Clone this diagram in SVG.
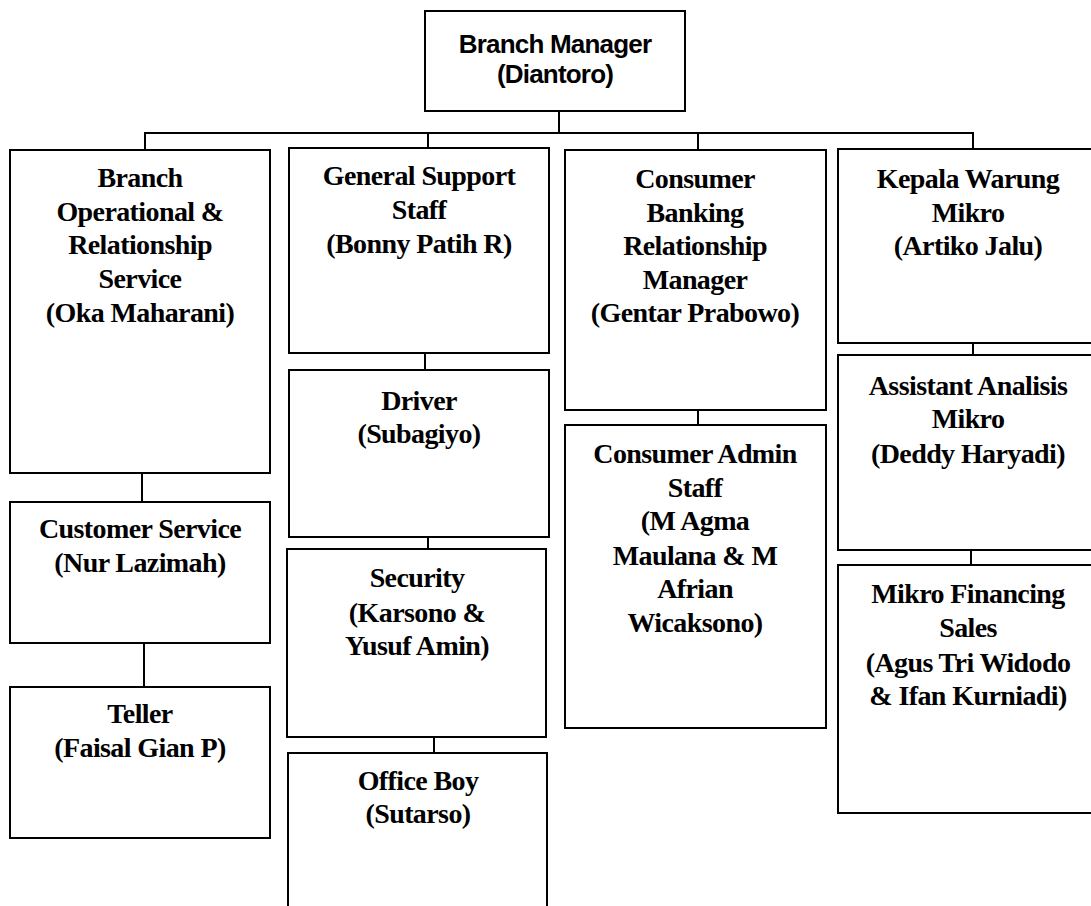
<svg xmlns="http://www.w3.org/2000/svg" width="1091" height="906" viewBox="0 0 1091 906">
<style>
.box{fill:#ffffff;stroke:#000000;stroke-width:2}
.t{font-family:"Liberation Serif","Times New Roman",serif;font-weight:bold;font-size:28px;letter-spacing:-0.6px;fill:#000;text-anchor:middle}
.ts{font-family:"Liberation Sans",Arial,sans-serif;font-weight:bold;font-size:26px;letter-spacing:-0.8px;fill:#000;text-anchor:middle}
.c{stroke:#000;stroke-width:2;fill:none}
</style>
<rect x="0" y="0" width="1091" height="906" fill="#ffffff"/>
<g id="connectors">
<line class="c" x1="559" y1="111" x2="559" y2="133"/>
<line class="c" x1="144" y1="133" x2="974" y2="133"/>
<line class="c" x1="145" y1="133" x2="145" y2="150"/>
<line class="c" x1="428" y1="133" x2="428" y2="148"/>
<line class="c" x1="698" y1="133" x2="698" y2="150"/>
<line class="c" x1="973" y1="133" x2="973" y2="149"/>
<line class="c" x1="142" y1="473" x2="142" y2="502"/>
<line class="c" x1="144" y1="643" x2="144" y2="687"/>
<line class="c" x1="425" y1="353" x2="425" y2="370"/>
<line class="c" x1="428" y1="537" x2="428" y2="549"/>
<line class="c" x1="434" y1="737" x2="434" y2="753"/>
<line class="c" x1="698" y1="410" x2="698" y2="425"/>
<line class="c" x1="973" y1="343" x2="973" y2="355"/>
<line class="c" x1="971" y1="550" x2="971" y2="565"/>
</g>
<g id="branch-manager">
<rect class="box" x="425" y="11" width="260" height="100"/>
<text class="ts" x="555" y="53">Branch Manager</text>
<text class="ts" x="555" y="83">(Diantoro)</text>
</g>
<g id="branch-operational">
<rect class="box" x="10" y="150" width="260" height="323"/>
<text class="t" x="140" y="187">Branch</text>
<text class="t" x="140" y="220.5">Operational &amp;</text>
<text class="t" x="140" y="254">Relationship</text>
<text class="t" x="140" y="288">Service</text>
<text class="t" x="140" y="321.5">(Oka Maharani)</text>
</g>
<g id="customer-service">
<rect class="box" x="10" y="502" width="260" height="141"/>
<text class="t" x="140" y="538">Customer Service</text>
<text class="t" x="140" y="572">(Nur Lazimah)</text>
</g>
<g id="teller">
<rect class="box" x="10" y="687" width="260" height="151"/>
<text class="t" x="140" y="723">Teller</text>
<text class="t" x="140" y="757">(Faisal Gian P)</text>
</g>
<g id="general-support">
<rect class="box" x="289" y="148" width="260" height="205"/>
<text class="t" x="419" y="185">General Support</text>
<text class="t" x="419" y="219">Staff</text>
<text class="t" x="419" y="253">(Bonny Patih R)</text>
</g>
<g id="driver">
<rect class="box" x="289" y="370" width="260" height="167"/>
<text class="t" x="419" y="410">Driver</text>
<text class="t" x="419" y="443">(Subagiyo)</text>
</g>
<g id="security">
<rect class="box" x="287" y="549" width="259" height="188"/>
<text class="t" x="417" y="587">Security</text>
<text class="t" x="417" y="622">(Karsono &amp;</text>
<text class="t" x="417" y="655">Yusuf Amin)</text>
</g>
<g id="office-boy">
<rect class="box" x="288" y="753" width="259" height="170"/>
<text class="t" x="418" y="790">Office Boy</text>
<text class="t" x="418" y="823">(Sutarso)</text>
</g>
<g id="consumer-banking">
<rect class="box" x="565" y="150" width="261" height="260"/>
<text class="t" x="695" y="188">Consumer</text>
<text class="t" x="695" y="221.5">Banking</text>
<text class="t" x="695" y="255">Relationship</text>
<text class="t" x="695" y="288.5">Manager</text>
<text class="t" x="695" y="322">(Gentar Prabowo)</text>
</g>
<g id="consumer-admin">
<rect class="box" x="565" y="425" width="261" height="303"/>
<text class="t" x="695" y="463">Consumer Admin</text>
<text class="t" x="695" y="497">Staff</text>
<text class="t" x="695" y="530">(M Agma</text>
<text class="t" x="695" y="565">Maulana &amp; M</text>
<text class="t" x="695" y="598">Afrian</text>
<text class="t" x="695" y="632">Wicaksono)</text>
</g>
<g id="kepala-warung">
<rect class="box" x="838" y="149" width="262" height="194"/>
<text class="t" x="968" y="188">Kepala Warung</text>
<text class="t" x="968" y="221.5">Mikro</text>
<text class="t" x="968" y="255">(Artiko Jalu)</text>
</g>
<g id="assistant-analisis">
<rect class="box" x="838" y="355" width="262" height="195"/>
<text class="t" x="968" y="395">Assistant Analisis</text>
<text class="t" x="968" y="428">Mikro</text>
<text class="t" x="968" y="463">(Deddy Haryadi)</text>
</g>
<g id="mikro-financing">
<rect class="box" x="838" y="565" width="262" height="248"/>
<text class="t" x="968" y="603">Mikro Financing</text>
<text class="t" x="968" y="637">Sales</text>
<text class="t" x="968" y="672">(Agus Tri Widodo</text>
<text class="t" x="968" y="705">&amp; Ifan Kurniadi)</text>
</g>
</svg>
